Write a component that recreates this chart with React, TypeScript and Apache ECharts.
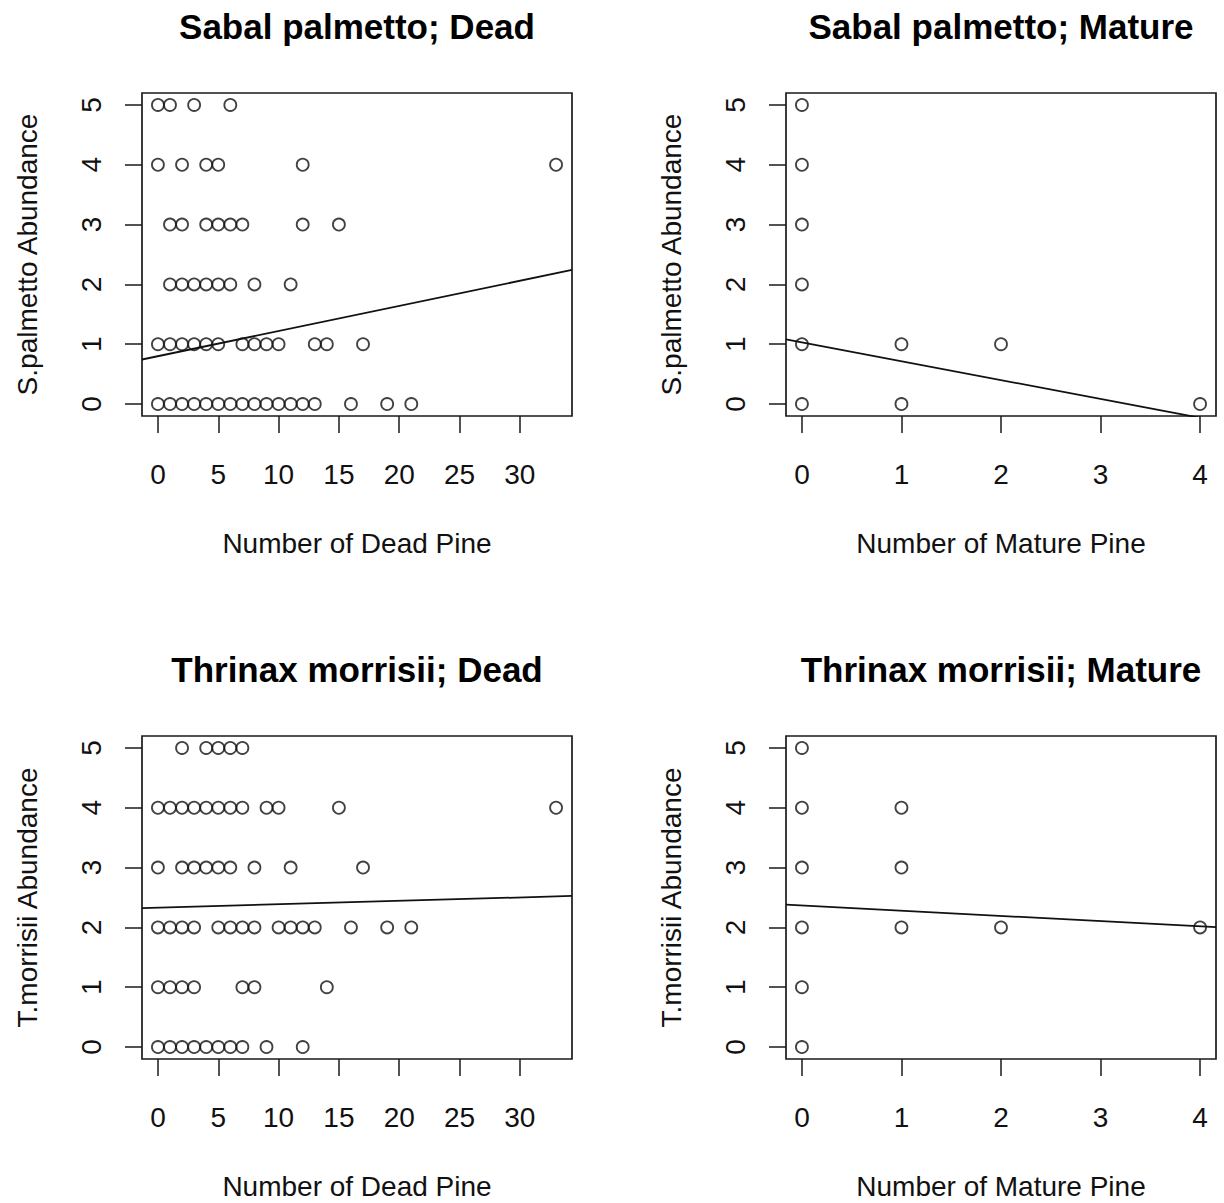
import React, { useEffect, useRef } from "react";
import * as echarts from "echarts";

// ---- Data ----
// Panel 1: Sabal palmetto vs number of dead pine
const spDeadX = [0, 1, 3, 6, 0, 2, 4, 5, 12, 33, 1, 2, 4, 5, 6, 7, 12, 15, 1, 2, 3, 4, 5, 6, 8, 11, 0, 1, 2, 3, 4, 5, 7, 8, 9, 10, 13, 14, 17, 0, 1, 2, 3, 4, 5, 6, 7, 8, 9, 10, 11, 12, 13, 16, 19, 21];
const spDeadY = [5, 5, 5, 5, 4, 4, 4, 4, 4, 4, 3, 3, 3, 3, 3, 3, 3, 3, 2, 2, 2, 2, 2, 2, 2, 2, 1, 1, 1, 1, 1, 1, 1, 1, 1, 1, 1, 1, 1, 0, 0, 0, 0, 0, 0, 0, 0, 0, 0, 0, 0, 0, 0, 0, 0, 0];
// Panel 2: Sabal palmetto vs number of mature pine
const spMatureX = [0, 0, 0, 0, 0, 0, 1, 1, 2, 4];
const spMatureY = [5, 4, 3, 2, 1, 0, 1, 0, 1, 0];
// Panel 3: Thrinax morrisii vs number of dead pine
const tmDeadX = [2, 4, 5, 6, 7, 0, 1, 2, 3, 4, 5, 6, 7, 9, 10, 15, 33, 0, 2, 3, 4, 5, 6, 8, 11, 17, 0, 1, 2, 3, 5, 6, 7, 8, 10, 11, 12, 13, 16, 19, 21, 0, 1, 2, 3, 7, 8, 14, 0, 1, 2, 3, 4, 5, 6, 7, 9, 12];
const tmDeadY = [5, 5, 5, 5, 5, 4, 4, 4, 4, 4, 4, 4, 4, 4, 4, 4, 4, 3, 3, 3, 3, 3, 3, 3, 3, 3, 2, 2, 2, 2, 2, 2, 2, 2, 2, 2, 2, 2, 2, 2, 2, 1, 1, 1, 1, 1, 1, 1, 0, 0, 0, 0, 0, 0, 0, 0, 0, 0];
// Panel 4: Thrinax morrisii vs number of mature pine
const tmMatureX = [0, 0, 0, 0, 0, 0, 1, 1, 1, 2, 4];
const tmMatureY = [5, 4, 3, 2, 1, 0, 4, 3, 2, 2, 2];

// Fitted lines (intercept, slope)
const spDeadFit = [0.8, 0.042];
const spMatureFit = [1.03, -0.315];
const tmDeadFit = [2.33, 0.0057];
const tmMatureFit = [2.366, -0.087];

// Tick labels
const deadTicks = [0, 5, 10, 15, 20, 25, 30];
const matureTicks = [0, 1, 2, 3, 4];
const yTicks = [0, 1, 2, 3, 4, 5];

const titles = [
  "Sabal palmetto; Dead",
  "Sabal palmetto; Mature",
  "Thrinax morrisii; Dead",
  "Thrinax morrisii; Mature",
];
const xTitles = ["Number of Dead Pine", "Number of Mature Pine", "Number of Dead Pine", "Number of Mature Pine"];
const yTitles = ["S.palmetto Abundance", "S.palmetto Abundance", "T.morrisii Abundance", "T.morrisii Abundance"];

const FONT = '"Liberation Sans", Arial, Helvetica, sans-serif';

export default function App() {
  const ref = useRef<HTMLDivElement>(null);
  useEffect(() => {
    if (!ref.current) return;
    const chart = echarts.init(ref.current, null, { renderer: "svg" });

    const panels = [
      { xs: spDeadX, ys: spDeadY, fit: spDeadFit, ticks: deadTicks, xmin: -1.32, xmax: 34.32, left: 142, top: 93 },
      { xs: spMatureX, ys: spMatureY, fit: spMatureFit, ticks: matureTicks, xmin: -0.16, xmax: 4.16, left: 786, top: 93 },
      { xs: tmDeadX, ys: tmDeadY, fit: tmDeadFit, ticks: deadTicks, xmin: -1.32, xmax: 34.32, left: 142, top: 736 },
      { xs: tmMatureX, ys: tmMatureY, fit: tmMatureFit, ticks: matureTicks, xmin: -0.16, xmax: 4.16, left: 786, top: 736 },
    ];
    const W = 430;
    const H = 323;

    const grid: any[] = [];
    const xAxis: any[] = [];
    const yAxis: any[] = [];
    const series: any[] = [];
    const graphic: any[] = [];
    const tickStyle = { color: "#1a1a1a", width: 1.5 };

    panels.forEach((p, i) => {
      grid.push({
        left: p.left,
        top: p.top,
        width: W,
        height: H,
        show: true,
        borderColor: "#1a1a1a",
        borderWidth: 1.7,
        backgroundColor: "transparent",
        containLabel: false,
      });
      xAxis.push({
        type: "value",
        gridIndex: i,
        min: p.xmin,
        max: p.xmax,
        axisLine: { show: false, onZero: false },
        axisTick: { show: true, length: 17, lineStyle: tickStyle, customValues: p.ticks },
        axisLabel: {
          show: true,
          customValues: p.ticks,
          margin: 44,
          fontSize: 28,
          fontFamily: FONT,
          color: "#111",
        },
        splitLine: { show: false },
        name: xTitles[i],
        nameLocation: "middle",
        nameGap: 113,
        nameTextStyle: { fontSize: 28, fontFamily: FONT, color: "#111" },
      });
      yAxis.push({
        type: "value",
        gridIndex: i,
        min: -0.2,
        max: 5.2,
        axisLine: { show: false, onZero: false },
        axisTick: { show: true, length: 17, lineStyle: tickStyle, customValues: yTicks },
        axisLabel: {
          show: true,
          customValues: yTicks,
          rotate: 90,
          margin: 37,
          fontSize: 28,
          fontFamily: FONT,
          color: "#111",
        },
        splitLine: { show: false },
        name: yTitles[i],
        nameLocation: "middle",
        nameGap: 101,
        nameRotate: 90,
        nameTextStyle: { fontSize: 28, fontFamily: FONT, color: "#111" },
      });
      series.push({
        type: "scatter",
        xAxisIndex: i,
        yAxisIndex: i,
        symbol: "circle",
        symbolSize: 12,
        itemStyle: { color: "rgba(255,255,255,0)", borderColor: "#111", borderWidth: 1.8 },
        data: p.xs.map((x, k) => [x, p.ys[k]]),
        z: 3,
      });
      const [a, b] = p.fit;
      series.push({
        type: "line",
        xAxisIndex: i,
        yAxisIndex: i,
        clip: true,
        symbol: "none",
        lineStyle: { color: "#111", width: 1.8 },
        data: [
          [p.xmin, a + b * p.xmin],
          [p.xmax, a + b * p.xmax],
        ],
        z: 2,
      });
      graphic.push({
        type: "text",
        x: p.left + W / 2,
        y: p.top - 67,
        style: {
          text: titles[i],
          font: `bold 35px ${FONT}`,
          fill: "#000",
          align: "center",
          verticalAlign: "middle",
          textAlign: "center",
          textVerticalAlign: "middle",
        },
      });
    });

    chart.setOption({
      animation: false,
      backgroundColor: "#fff",
      grid,
      xAxis,
      yAxis,
      series,
      graphic,
    });
    return () => chart.dispose();
  }, []);

  return (
    <div
      ref={ref}
      style={{ position: "absolute", left: 0, top: 0, width: 1224, height: 1203, background: "#fff" }}
    />
  );
}
